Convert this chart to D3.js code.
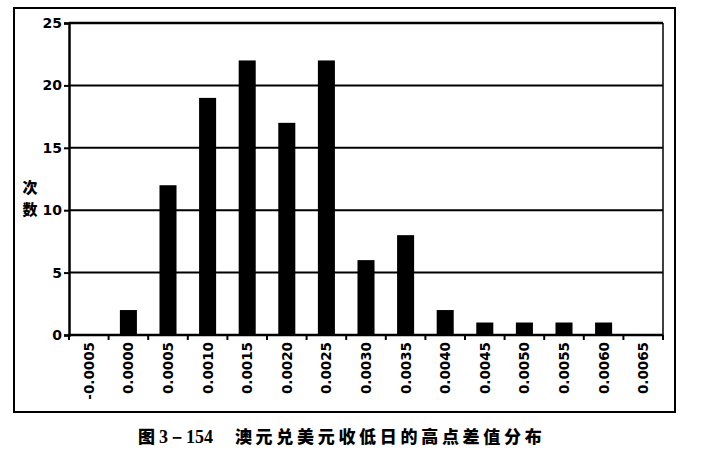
<!DOCTYPE html>
<html><head><meta charset="utf-8">
<script src="https://cdn.jsdelivr.net/npm/d3@7"></script>
<style>body{margin:0;background:#fff}svg{display:block}</style>
</head><body>
<svg id="c" width="701" height="452"></svg>
<script>
const categories = ["-0.0005","0.0000","0.0005","0.0010","0.0015","0.0020","0.0025","0.0030","0.0035","0.0040","0.0045","0.0050","0.0055","0.0060","0.0065"];
const counts = [0,2,12,19,22,17,22,6,8,2,1,1,1,1,0];
const yTicks = [0,5,10,15,20,25];
const yLabel = ["次","数"];
const captionNum = "3－154";
const captionText = "澳元兑美元收低日的高点差值分布";

const svg = d3.select("#c");
const L = 69, R = 663, T = 23, B = 335;
const x = d3.scaleBand().domain(categories).range([L, R]).paddingInner(0.57).paddingOuter(0.285);
const xb = d3.scaleBand().domain(categories).range([L, R]);
const y = d3.scaleLinear().domain([0, 25]).range([B, T]);

// outer frame
svg.append("rect").attr("x",14).attr("y",8).attr("width",661).attr("height",404)
  .attr("fill","none").attr("stroke","#000").attr("stroke-width",2);

// gridlines
svg.append("g").selectAll("line").data(yTicks.filter(d=>d>0)).join("line")
  .attr("x1",L).attr("x2",R).attr("y1",d=>y(d)).attr("y2",d=>y(d))
  .attr("stroke","#000").attr("stroke-width",d=>d===25?2.5:2);
// right border
svg.append("line").attr("x1",R).attr("x2",R).attr("y1",T).attr("y2",B).attr("stroke","#000").attr("stroke-width",1.5);

// bars
svg.append("g").selectAll("rect").data(counts).join("rect")
  .attr("x",(d,i)=>x(categories[i])).attr("width",x.bandwidth())
  .attr("y",d=>y(d)).attr("height",d=>B-y(d)).attr("fill","#000");

// y axis
const ya = svg.append("g").attr("transform",`translate(${L},0)`)
  .call(d3.axisLeft(y).tickValues(yTicks).tickSize(5).tickPadding(2));
ya.select(".domain").attr("stroke-width",2.5);
ya.selectAll(".tick line").attr("stroke-width",2);
ya.selectAll("text").attr("font-family","DejaVu Sans, sans-serif").attr("font-weight","bold")
  .attr("font-size",14).attr("fill","#000");

// x axis with ticks at band boundaries
svg.append("line").attr("x1",L).attr("x2",R).attr("y1",B).attr("y2",B).attr("stroke","#000").attr("stroke-width",2.5);
const bounds = categories.map(c=>xb(c)).concat([R]);
svg.append("g").selectAll("line").data(bounds).join("line")
  .attr("x1",d=>d).attr("x2",d=>d).attr("y1",B).attr("y2",B+5).attr("stroke","#000").attr("stroke-width",2);
svg.append("g").selectAll("text").data(categories).join("text")
  .attr("transform",d=>`translate(${xb(d)+xb.bandwidth()/2+5},342) rotate(-90)`)
  .attr("text-anchor","end")
  .attr("font-family","DejaVu Sans, sans-serif").attr("font-weight","bold").attr("font-size",13.5)
  .text(d=>d);

// y label
svg.append("g").selectAll("text").data(yLabel).join("text")
  .attr("x",30).attr("y",(d,i)=>193+i*22).attr("text-anchor","middle")
  .attr("font-family","Noto Sans CJK SC").attr("font-weight","900").attr("font-size",15).text(d=>d);

// caption
const cap = svg.append("text").attr("x",138).attr("y",443)
  .attr("font-weight","bold").attr("font-size",17);
cap.append("tspan").attr("font-family","Noto Sans CJK SC").attr("font-weight","900").text("图 ");
cap.append("tspan").attr("font-family","Liberation Serif").attr("font-size",18).text(captionNum);
cap.append("tspan").attr("font-family","Noto Sans CJK SC").attr("font-weight","900").attr("dx",22).attr("letter-spacing",3.7).text(captionText);
</script>
</body></html>
